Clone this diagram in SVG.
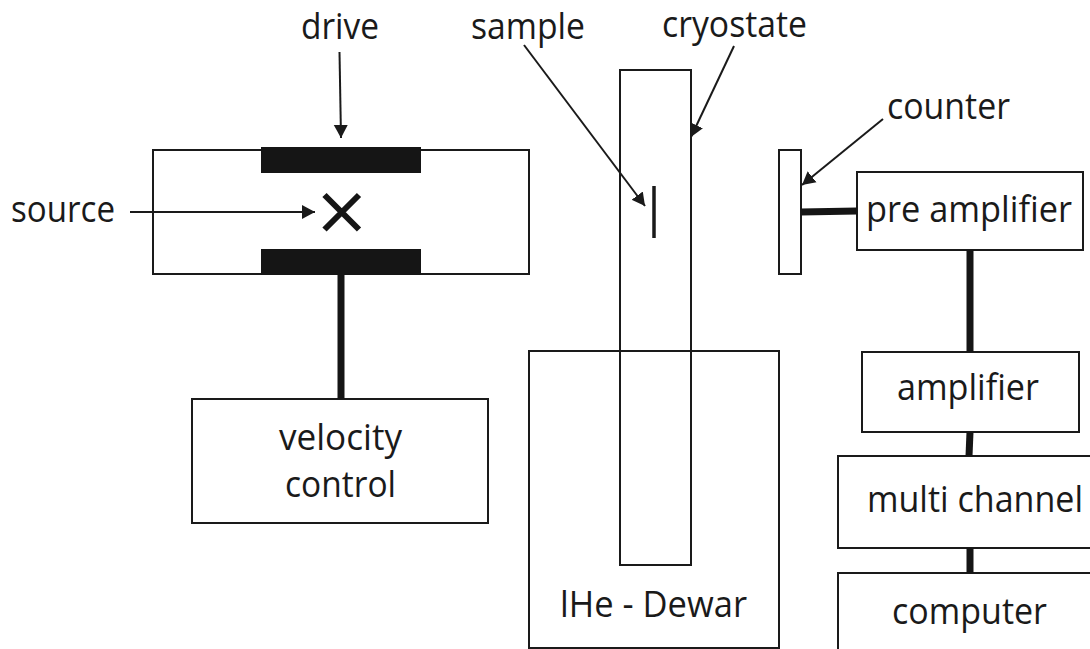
<svg xmlns="http://www.w3.org/2000/svg" width="1090" height="649" viewBox="0 0 1090 649">
<style>
.box{fill:#fff;stroke:#1a1a1a;stroke-width:2}
.open{fill:none;stroke:#1a1a1a;stroke-width:2}
.bar{fill:#151515}
.thick{fill:none;stroke:#151515;stroke-width:7}
.arrow{fill:none;stroke:#1a1a1a;stroke-width:2;marker-end:url(#ah)}
text{font-family:"Open Sans","Noto Sans","Liberation Sans",sans-serif;font-size:36px;fill:#1a1a1a}
</style>
<defs><marker id="ah" markerUnits="userSpaceOnUse" markerWidth="14" markerHeight="16" refX="13" refY="8" orient="auto"><path d="M0 1L13 8L0 15Z" fill="#1a1a1a"/></marker></defs>
<rect width="1090" height="649" fill="#fff"/>
<g id="dewar"><rect class="box" x="529" y="351" width="250" height="297"/><text x="560" y="617" textLength="187" lengthAdjust="spacingAndGlyphs">lHe - Dewar</text></g>
<g id="cryostat"><rect class="open" x="620" y="70" width="71" height="495"/></g>
<g id="sample"><line x1="654" y1="186" x2="654" y2="238" stroke="#1a1a1a" stroke-width="3.500"/></g>
<g id="source-holder">
<rect class="open" x="153" y="150" width="376" height="124"/>
<rect class="bar" x="261" y="147" width="160" height="26"/>
<rect class="bar" x="261" y="249" width="160" height="26"/>
<path d="M324.500 195L359 229.500M359 195L324.500 229.500" fill="none" stroke="#151515" stroke-width="6"/>
</g>
<g id="velocity-control"><rect class="box" x="192" y="399" width="296" height="124"/><text x="279" y="450" textLength="123" lengthAdjust="spacingAndGlyphs">velocity</text><text x="285" y="497" textLength="111" lengthAdjust="spacingAndGlyphs">control</text></g>
<g id="counter"><rect class="box" x="779" y="150" width="22" height="124"/></g>
<g id="pre-amplifier"><rect class="box" x="857" y="172" width="226" height="78"/><text x="866" y="222" textLength="206" lengthAdjust="spacingAndGlyphs">pre amplifier</text></g>
<g id="amplifier"><rect class="box" x="862" y="352" width="217" height="80"/><text x="897" y="400" textLength="142" lengthAdjust="spacingAndGlyphs">amplifier</text></g>
<g id="multi-channel"><rect class="box" x="838" y="456" width="260" height="92"/><text transform="translate(867 512) scale(0.9 1)" textLength="240" lengthAdjust="spacingAndGlyphs">multi channel</text></g>
<g id="computer"><rect class="box" x="838" y="573" width="260" height="90"/><text x="892" y="624" textLength="155" lengthAdjust="spacingAndGlyphs">computer</text></g>
<g id="labels">
<text x="301" y="39" textLength="78" lengthAdjust="spacingAndGlyphs">drive</text>
<text x="11" y="222" textLength="104" lengthAdjust="spacingAndGlyphs">source</text>
<text x="471" y="39" textLength="114" lengthAdjust="spacingAndGlyphs">sample</text>
<text x="662" y="37" textLength="145" lengthAdjust="spacingAndGlyphs">cryostate</text>
<text x="887" y="119" textLength="123" lengthAdjust="spacingAndGlyphs">counter</text>
</g>
<g id="connectors">
<line class="arrow" x1="339.500" y1="52" x2="341" y2="138"/>
<line class="arrow" x1="130" y1="212" x2="315" y2="212"/>
<line class="arrow" x1="524" y1="45" x2="645" y2="206"/>
<line class="arrow" x1="734" y1="46" x2="691" y2="137"/>
<line class="arrow" x1="883" y1="119" x2="802" y2="185"/>
<line class="thick" x1="341" y1="275" x2="341" y2="399"/>
<line class="thick" x1="801" y1="212" x2="857" y2="211"/>
<line class="thick" x1="970" y1="250" x2="970" y2="352"/>
<line class="thick" x1="970" y1="432" x2="969" y2="456"/>
<line class="thick" x1="970" y1="548" x2="970" y2="573"/>
</g>
</svg>
